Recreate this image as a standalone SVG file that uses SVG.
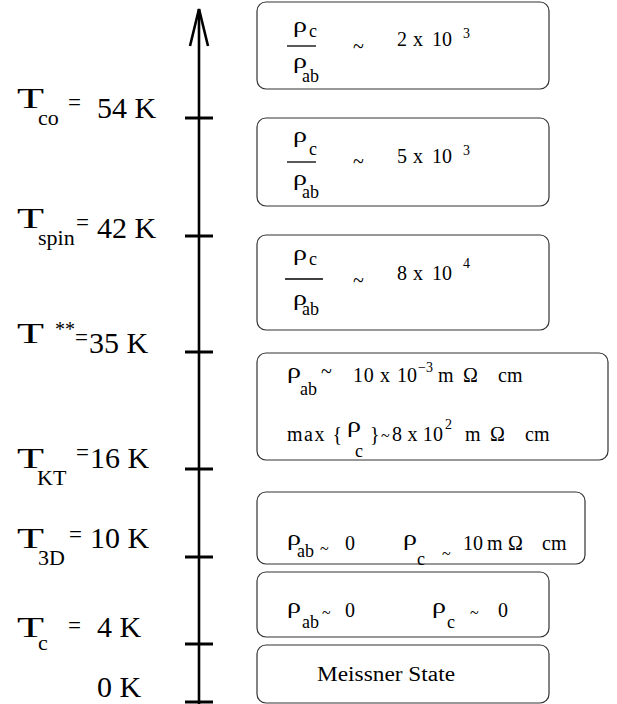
<svg xmlns="http://www.w3.org/2000/svg" width="617" height="704" viewBox="0 0 617 704">
<style>
text { font-family: "Liberation Serif", "Times New Roman", serif; fill: #000; }
.big { font-size: 30px; }
.sub { font-size: 22px; }
.eq { font-size: 23px; }
.bx { font-size: 20px; }
.rho { font-size: 22px; }
.sb { font-size: 18px; }
.tl { font-size: 20px; }
.ts { font-size: 16px; }
.sp { font-size: 14px; }
.box { fill: #fff; stroke: #333; stroke-width: 1.2; }
.axis { stroke: #000; stroke-width: 2.6; fill: none; }
.tick { stroke: #000; stroke-width: 3; }
.frac { stroke: #000; stroke-width: 1.3; }
</style>
<rect width="617" height="704" fill="#fff"/>
<g id="connectors">
  <line class="axis" x1="199" y1="9" x2="199" y2="704"/>
  <polyline class="axis" points="190,46 199,9 208,46"/>
  <line class="tick" x1="185" y1="118" x2="213" y2="118"/>
  <line class="tick" x1="185" y1="236" x2="213" y2="236"/>
  <line class="tick" x1="185" y1="352" x2="213" y2="352"/>
  <line class="tick" x1="185" y1="469" x2="213" y2="469"/>
  <line class="tick" x1="185" y1="557" x2="213" y2="557"/>
  <line class="tick" x1="185" y1="644" x2="213" y2="644"/>
  <line class="tick" x1="185" y1="702" x2="213" y2="702"/>
</g>
<g id="label-54K">
  <text class="big" x="17" y="108" textLength="27" lengthAdjust="spacingAndGlyphs">T</text>
  <text class="sub" x="38" y="125">co</text>
  <text class="eq" x="68" y="110">=</text>
  <text class="big" x="97" y="118">54 K</text>
</g>
<g id="label-42K">
  <text class="big" x="17" y="228" textLength="27" lengthAdjust="spacingAndGlyphs">T</text>
  <text class="sub" x="38" y="245">spin</text>
  <text class="eq" x="76" y="230">=</text>
  <text class="big" x="97" y="238">42 K</text>
</g>
<g id="label-35K">
  <text class="big" x="17" y="343" textLength="27" lengthAdjust="spacingAndGlyphs">T</text>
  <text x="55" y="336" style="font-size:20px">**</text>
  <text class="eq" x="75" y="345">=</text>
  <text class="big" x="89" y="353">35 K</text>
</g>
<g id="label-16K">
  <text class="big" x="17" y="468" textLength="27" lengthAdjust="spacingAndGlyphs">T</text>
  <text class="sub" x="37" y="485">KT</text>
  <text class="eq" x="76" y="460">=</text>
  <text class="big" x="90" y="468">16 K</text>
</g>
<g id="label-10K">
  <text class="big" x="17" y="548" textLength="27" lengthAdjust="spacingAndGlyphs">T</text>
  <text class="sub" x="38" y="565">3D</text>
  <text class="eq" x="69" y="542">=</text>
  <text class="big" x="90" y="548">10 K</text>
</g>
<g id="label-4K">
  <text class="big" x="17" y="637" textLength="27" lengthAdjust="spacingAndGlyphs">T</text>
  <text class="sub" x="38" y="650">c</text>
  <text class="eq" x="68" y="633">=</text>
  <text class="big" x="97" y="637">4 K</text>
</g>
<g id="label-0K">
  <text class="big" x="97" y="697">0 K</text>
</g>
<g id="box-1">
  <rect class="box" x="257" y="2" width="292" height="87" rx="9"/>
  <text class="rho" x="293" y="32" textLength="14" lengthAdjust="spacingAndGlyphs">ρ</text>
  <text class="sb" x="309" y="37">c</text>
  <line class="frac" x1="287" y1="46" x2="316" y2="46"/>
  <text class="rho" x="293" y="68" textLength="14" lengthAdjust="spacingAndGlyphs">ρ</text>
  <text class="sb" x="302" y="82">ab</text>
  <text class="tl" x="353" y="53">~</text>
  <text class="bx" x="397" y="46">2</text>
  <text class="bx" x="413" y="46">x</text>
  <text class="bx" x="432" y="46">10</text>
  <text class="sp" x="463" y="38">3</text>
</g>
<g id="box-2">
  <rect class="box" x="257" y="118" width="292" height="88" rx="9"/>
  <text class="rho" x="293" y="142" textLength="14" lengthAdjust="spacingAndGlyphs">ρ</text>
  <text class="sb" x="309" y="155">c</text>
  <line class="frac" x1="287" y1="162" x2="316" y2="162"/>
  <text class="rho" x="293" y="185" textLength="14" lengthAdjust="spacingAndGlyphs">ρ</text>
  <text class="sb" x="302" y="198">ab</text>
  <text class="tl" x="353" y="168">~</text>
  <text class="bx" x="397" y="163">5</text>
  <text class="bx" x="413" y="163">x</text>
  <text class="bx" x="432" y="163">10</text>
  <text class="sp" x="463" y="155">3</text>
</g>
<g id="box-3">
  <rect class="box" x="257" y="235" width="292" height="95" rx="9"/>
  <text class="rho" x="293" y="260" textLength="14" lengthAdjust="spacingAndGlyphs">ρ</text>
  <text class="sb" x="309" y="265">c</text>
  <line class="frac" x1="285" y1="279" x2="323" y2="279"/>
  <text class="rho" x="293" y="305" textLength="14" lengthAdjust="spacingAndGlyphs">ρ</text>
  <text class="sb" x="302" y="315">ab</text>
  <text class="tl" x="353" y="287">~</text>
  <text class="bx" x="397" y="280">8</text>
  <text class="bx" x="413" y="280">x</text>
  <text class="bx" x="432" y="280">10</text>
  <text class="sp" x="463" y="268">4</text>
</g>
<g id="box-4">
  <rect class="box" x="257" y="353" width="351" height="107" rx="9"/>
  <text class="rho" x="287" y="378" textLength="14" lengthAdjust="spacingAndGlyphs">ρ</text>
  <text class="sb" x="300" y="395">ab</text>
  <text class="tl" x="321" y="378">~</text>
  <text class="bx" x="353" y="382" textLength="37">10 x</text>
  <text class="bx" x="397" y="382">10</text>
  <text class="sp" x="418" y="372">−3</text>
  <text class="bx" x="438" y="382">m</text>
  <text class="bx" x="463" y="382">Ω</text>
  <text class="bx" x="498" y="382">cm</text>
  <text class="bx" x="287" y="441" textLength="55">max {</text>
  <text class="rho" x="347" y="432" textLength="14" lengthAdjust="spacingAndGlyphs">ρ</text>
  <text class="sb" x="355" y="457">c</text>
  <text class="bx" x="370" y="441">}</text>
  <text class="ts" x="381" y="441">~</text>
  <text class="bx" x="392" y="441" textLength="51">8 x 10</text>
  <text class="sp" x="445" y="429">2</text>
  <text class="bx" x="465" y="441">m</text>
  <text class="bx" x="490" y="441">Ω</text>
  <text class="bx" x="525" y="441">cm</text>
</g>
<g id="box-5">
  <rect class="box" x="257" y="492" width="328" height="72" rx="9"/>
  <text class="rho" x="287" y="545" textLength="14" lengthAdjust="spacingAndGlyphs">ρ</text>
  <text class="sb" x="297" y="557">ab</text>
  <text class="ts" x="320" y="554">~</text>
  <text class="bx" x="345" y="550">0</text>
  <text class="rho" x="403" y="545" textLength="14" lengthAdjust="spacingAndGlyphs">ρ</text>
  <text class="sb" x="417" y="565">c</text>
  <text class="ts" x="442" y="559">~</text>
  <text class="bx" x="463" y="550">10</text>
  <text class="bx" x="487" y="550">m</text>
  <text class="bx" x="508" y="550">Ω</text>
  <text class="bx" x="542" y="550">cm</text>
</g>
<g id="box-6">
  <rect class="box" x="257" y="572" width="292" height="65" rx="9"/>
  <text class="rho" x="287" y="613" textLength="14" lengthAdjust="spacingAndGlyphs">ρ</text>
  <text class="sb" x="302" y="628">ab</text>
  <text class="ts" x="322" y="618">~</text>
  <text class="bx" x="345" y="617">0</text>
  <text class="rho" x="432" y="613" textLength="14" lengthAdjust="spacingAndGlyphs">ρ</text>
  <text class="sb" x="447" y="628">c</text>
  <text class="ts" x="470" y="618">~</text>
  <text class="bx" x="498" y="617">0</text>
</g>
<g id="box-7">
  <rect class="box" x="257" y="645" width="292" height="58" rx="9"/>
  <text x="317" y="681" style="font-size:20px" textLength="138" lengthAdjust="spacingAndGlyphs">Meissner  State</text>
</g>
</svg>
